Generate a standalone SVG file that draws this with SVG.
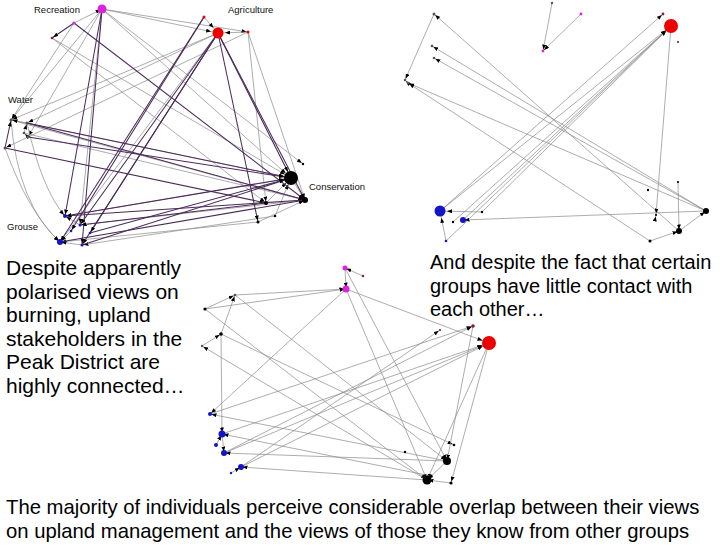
<svg xmlns="http://www.w3.org/2000/svg" width="728" height="546" viewBox="0 0 728 546">
<style>
.tk{stroke:#4a2a5a;stroke-width:1.05;fill:none;marker-end:url(#a)}
.tkb{stroke:#4a2a5a;stroke-width:1.05;fill:none;marker-end:url(#ab)}
.tn{stroke:#8a8a8a;stroke-width:0.7;fill:none;marker-end:url(#a)}
.tnb{stroke:#8a8a8a;stroke-width:0.7;fill:none;marker-end:url(#ab)}
.lbl{font-family:"Liberation Sans",Arial,sans-serif;font-size:9.5px;fill:#111}
.cap{font-family:"Liberation Sans",Arial,sans-serif;font-size:20px;fill:#000}
.capl{font-family:"Liberation Sans",Arial,sans-serif;font-size:21px;fill:#000}
.capb{font-family:"Liberation Sans",Arial,sans-serif;font-size:20.3px;fill:#000}
.mg{fill:#dd22dd}.rd{fill:#ee0000}.bl{fill:#1414cc}.bk{fill:#000}.gy{fill:#555}.dr{fill:#8a1a2a}
</style>
<defs>
<marker id="a" viewBox="0 0 5 4" refX="6.5" refY="2" markerWidth="5" markerHeight="4" markerUnits="userSpaceOnUse" orient="auto"><path d="M0,0 L5,2 L0,4z" fill="#000"/></marker>
<marker id="ab" viewBox="0 0 5 4" refX="12" refY="2" markerWidth="5" markerHeight="4" markerUnits="userSpaceOnUse" orient="auto"><path d="M0,0 L5,2 L0,4z" fill="#000"/></marker>
</defs>
<rect width="728" height="546" fill="#fff"/>

<!-- ============ Network A (top-left) ============ -->
<g id="a-edges">
<line class="tn" x1="102" y1="9" x2="11" y2="120"/>
<line class="tn" x1="102" y1="9" x2="28" y2="137"/>
<line class="tnb" x1="102" y1="9" x2="291" y2="178"/>
<line class="tn" x1="102" y1="9" x2="303" y2="164"/>
<line class="tnb" x1="102" y1="9" x2="218" y2="33"/>
<line class="tn" x1="102" y1="9" x2="248" y2="32"/>
<line class="tn" x1="102" y1="9" x2="80" y2="225"/>
<line class="tn" x1="74" y1="23" x2="102" y2="9"/>
<line class="tn" x1="74" y1="23" x2="11" y2="120"/>
<line class="tnb" x1="52" y1="38" x2="291" y2="178"/>
<line class="tn" x1="52" y1="38" x2="266" y2="203"/>
<line class="tn" x1="218" y1="33" x2="11" y2="120"/>
<line class="tn" x1="218" y1="33" x2="27" y2="123"/>
<line class="tn" x1="248" y1="32" x2="5" y2="148"/>
<line class="tnb" x1="204" y1="17" x2="218" y2="33"/>
<line class="tnb" x1="248" y1="32" x2="218" y2="33"/>
<line class="tn" x1="248" y1="32" x2="266" y2="203"/>
<line class="tn" x1="248" y1="32" x2="305" y2="200"/>
<line class="tn" x1="218" y1="33" x2="60" y2="242"/>
<line class="tn" x1="11" y1="120" x2="305" y2="200"/>
<line class="tn" x1="24" y1="133" x2="305" y2="200"/>
<line class="tnb" x1="11" y1="120" x2="291" y2="178"/>
<line class="tn" x1="27" y1="123" x2="11" y2="120"/>
<line class="tn" x1="24" y1="133" x2="27" y2="123"/>
<line class="tn" x1="28" y1="137" x2="24" y2="133"/>
<path class="tn" d="M11,120 Q18,205 60,242"/>
<path class="tn" d="M5,148 Q28,212 60,242"/>
<path class="tn" d="M27,123 Q42,190 65,216"/>
<line class="tnb" x1="266" y1="203" x2="291" y2="178"/>
<line class="tnb" x1="275" y1="216" x2="291" y2="178"/>
<line class="tn" x1="258" y1="222" x2="305" y2="200"/>
<line class="tn" x1="291" y1="178" x2="305" y2="200"/>
<line class="tn" x1="291" y1="178" x2="65" y2="216"/>
<line class="tn" x1="305" y1="200" x2="80" y2="225"/>
<line class="tn" x1="258" y1="222" x2="60" y2="242"/>
<line class="tn" x1="275" y1="216" x2="82" y2="245"/>
<line class="tn" x1="80" y1="225" x2="65" y2="216"/>
<line class="tn" x1="71" y1="231" x2="60" y2="242"/>
<line class="tn" x1="82" y1="245" x2="60" y2="242"/>
<line class="tk" x1="102" y1="9" x2="65" y2="216"/>
<line class="tk" x1="102" y1="9" x2="82" y2="245"/>
<line class="tk" x1="204" y1="17" x2="60" y2="242"/>
<line class="tk" x1="204" y1="17" x2="71" y2="231"/>
<line class="tk" x1="218" y1="33" x2="80" y2="225"/>
<line class="tk" x1="218" y1="33" x2="82" y2="245"/>
<line class="tk" x1="218" y1="33" x2="90" y2="233"/>
<line class="tk" x1="218" y1="33" x2="258" y2="222"/>
<line class="tkb" x1="218" y1="33" x2="291" y2="178"/>
<line class="tk" x1="218" y1="33" x2="305" y2="200"/>
<line class="tk" x1="74" y1="23" x2="305" y2="200"/>
<line class="tk" x1="74" y1="23" x2="52" y2="38"/>
<line class="tkb" x1="27" y1="123" x2="291" y2="178"/>
<line class="tkb" x1="28" y1="137" x2="291" y2="178"/>
<line class="tk" x1="27" y1="123" x2="305" y2="200"/>
<line class="tk" x1="5" y1="148" x2="266" y2="203"/>
<line class="tk" x1="5" y1="148" x2="11" y2="120"/>
<line class="tkb" x1="65" y1="216" x2="291" y2="178"/>
<line class="tk" x1="60" y1="242" x2="305" y2="200"/>
<line class="tkb" x1="82" y1="245" x2="291" y2="178"/>
<line class="tkb" x1="90" y1="233" x2="291" y2="178"/>
<line class="tk" x1="305" y1="200" x2="65" y2="216"/>
<line class="tk" x1="266" y1="203" x2="80" y2="225"/>
</g>
<g id="a-R"><circle cx="102" cy="9" r="4.5" class="mg"/><text class="lbl" x="34" y="13">Recreation</text></g>
<g id="a-r1"><circle cx="74" cy="23" r="1.6" class="mg"/></g>
<g id="a-r2"><circle cx="52" cy="38" r="1.3" class="dr"/></g>
<g id="a-G"><circle cx="218" cy="33" r="5.5" class="rd"/><text class="lbl" x="228" y="13">Agriculture</text></g>
<g id="a-g1"><circle cx="204" cy="17" r="1.5" class="rd"/></g>
<g id="a-g2"><circle cx="248" cy="32" r="1.5" class="rd"/></g>
<g id="a-W"><text class="lbl" x="8" y="103">Water</text></g>
<g id="a-w1"><circle cx="11" cy="120" r="1.5" class="gy"/></g>
<g id="a-w2"><circle cx="27" cy="123" r="1.5" class="gy"/></g>
<g id="a-w3"><circle cx="24" cy="133" r="1.3" class="gy"/></g>
<g id="a-w4"><circle cx="28" cy="137" r="1.5" class="gy"/></g>
<g id="a-w5"><circle cx="5" cy="148" r="1.5" class="gy"/></g>
<g id="a-C"><circle cx="291" cy="178" r="7" class="bk"/><text class="lbl" x="309" y="190">Conservation</text></g>
<g id="a-c1"><circle cx="305" cy="200" r="3" class="bk"/></g>
<g id="a-c2"><circle cx="266" cy="203" r="2" class="bk"/></g>
<g id="a-c3"><circle cx="258" cy="222" r="1.5" class="bk"/></g>
<g id="a-c4"><circle cx="303" cy="164" r="1.2" class="bk"/></g>
<g id="a-c5"><circle cx="275" cy="216" r="1.3" class="bk"/></g>
<g id="a-Gr"><text class="lbl" x="7" y="230">Grouse</text></g>
<g id="a-B"><circle cx="60" cy="242" r="3" class="bl"/></g>
<g id="a-b1"><circle cx="65" cy="216" r="2" class="bl"/></g>
<g id="a-b2"><circle cx="80" cy="225" r="1.5" class="bl"/></g>
<g id="a-b3"><circle cx="71" cy="231" r="1.3" class="bl"/></g>
<g id="a-b4"><circle cx="82" cy="245" r="1.5" class="bl"/></g>
<g id="a-b5"><circle cx="90" cy="233" r="1.3" class="bl"/></g>

<!-- ============ Network B (top-right) ============ -->
<g id="b-edges">
<line class="tn" x1="434" y1="14" x2="405" y2="80"/>
<line class="tn" x1="679" y1="231" x2="434" y2="14"/>
<line class="tn" x1="706" y1="211" x2="432" y2="46"/>
<line class="tn" x1="706" y1="211" x2="434" y2="58"/>
<line class="tn" x1="706" y1="211" x2="408" y2="83"/>
<line class="tn" x1="650" y1="241" x2="408" y2="83"/>
<line class="tn" x1="408" y1="83" x2="405" y2="80"/>
<line class="tn" x1="552" y1="3" x2="543" y2="51"/>
<line class="tn" x1="581" y1="14" x2="543" y2="51"/>
<line class="tnb" x1="440" y1="211" x2="671" y2="26"/>
<line class="tnb" x1="453" y1="222" x2="671" y2="26"/>
<line class="tnb" x1="463" y1="220" x2="671" y2="26"/>
<line class="tnb" x1="482" y1="212" x2="671" y2="26"/>
<line class="tnb" x1="446" y1="241" x2="671" y2="26"/>
<line class="tn" x1="440" y1="211" x2="663" y2="14"/>
<line class="tn" x1="671" y1="26" x2="656" y2="215"/>
<line class="tn" x1="706" y1="211" x2="463" y2="220"/>
<line class="tnb" x1="482" y1="212" x2="440" y2="211"/>
<line class="tnb" x1="446" y1="241" x2="440" y2="211"/>
<line class="tn" x1="678" y1="182" x2="679" y2="231"/>
<line class="tn" x1="650" y1="241" x2="679" y2="231"/>
<line class="tn" x1="679" y1="231" x2="706" y2="211"/>
<line class="tn" x1="655" y1="220" x2="656" y2="215"/>
</g>
<g id="b-n1"><circle cx="434" cy="14" r="1.5" class="gy"/></g>
<g id="b-n2"><circle cx="432" cy="46" r="1.3" class="gy"/></g>
<g id="b-n3"><circle cx="434" cy="58" r="1.3" class="gy"/></g>
<g id="b-n4"><circle cx="405" cy="80" r="1.3" class="gy"/></g>
<g id="b-n5"><circle cx="408" cy="83" r="1.3" class="gy"/></g>
<g id="b-m0"><circle cx="552" cy="3" r="1.2" class="gy"/></g>
<g id="b-m1"><circle cx="543" cy="51" r="1.4" class="mg"/></g>
<g id="b-m2"><circle cx="581" cy="14" r="1.4" class="mg"/></g>
<g id="b-r0"><circle cx="663" cy="14" r="1.4" class="dr"/></g>
<g id="b-RR"><circle cx="671" cy="26" r="7" class="rd"/></g>
<g id="b-r3"><circle cx="678" cy="42" r="1.1" class="dr"/></g>
<g id="b-BB"><circle cx="440" cy="211" r="5.5" class="bl"/></g>
<g id="b-bb1"><circle cx="463" cy="220" r="3" class="bl"/></g>
<g id="b-bb2"><circle cx="446" cy="241" r="1.3" class="bl"/></g>
<g id="b-bb3"><circle cx="482" cy="212" r="1.2" class="bk"/></g>
<g id="b-bb4"><circle cx="453" cy="222" r="1.2" class="bk"/></g>
<g id="b-k1"><circle cx="706" cy="211" r="3" class="bk"/></g>
<g id="b-k2"><circle cx="679" cy="231" r="3" class="bk"/></g>
<g id="b-k3"><circle cx="650" cy="241" r="1.5" class="bk"/></g>
<g id="b-k4"><circle cx="648" cy="190" r="1.2" class="bk"/></g>
<g id="b-k5"><circle cx="678" cy="182" r="1.1" class="bk"/></g>
<g id="b-k6"><circle cx="656" cy="215" r="1.1" class="bk"/></g>

<!-- ============ Network C (bottom) ============ -->
<g id="c-edges">
<line class="tn" x1="345" y1="268" x2="346" y2="289"/>
<line class="tn" x1="363" y1="276" x2="345" y2="268"/>
<line class="tn" x1="235" y1="295" x2="346" y2="289"/>
<line class="tn" x1="205" y1="309" x2="346" y2="289"/>
<line class="tn" x1="205" y1="309" x2="235" y2="295"/>
<line class="tn" x1="221" y1="334" x2="235" y2="295"/>
<line class="tn" x1="202" y1="346" x2="221" y2="334"/>
<line class="tn" x1="221" y1="334" x2="222" y2="434"/>
<line class="tnb" x1="346" y1="289" x2="489" y2="343"/>
<line class="tn" x1="345" y1="268" x2="447" y2="461"/>
<line class="tn" x1="346" y1="289" x2="427" y2="480"/>
<line class="tn" x1="205" y1="309" x2="427" y2="480"/>
<line class="tn" x1="235" y1="295" x2="447" y2="461"/>
<line class="tn" x1="221" y1="334" x2="454" y2="445"/>
<line class="tn" x1="346" y1="289" x2="210" y2="414"/>
<line class="tn" x1="427" y1="480" x2="202" y2="346"/>
<line class="tnb" x1="222" y1="434" x2="489" y2="343"/>
<line class="tnb" x1="224" y1="453" x2="489" y2="343"/>
<line class="tnb" x1="241" y1="467" x2="489" y2="343"/>
<line class="tn" x1="241" y1="467" x2="440" y2="330"/>
<line class="tn" x1="210" y1="414" x2="473" y2="326"/>
<line class="tn" x1="224" y1="453" x2="473" y2="326"/>
<line class="tn" x1="473" y1="326" x2="447" y2="461"/>
<line class="tn" x1="489" y1="343" x2="451" y2="483"/>
<line class="tn" x1="489" y1="343" x2="427" y2="480"/>
<line class="tn" x1="427" y1="480" x2="241" y2="467"/>
<line class="tn" x1="447" y1="461" x2="224" y2="453"/>
<line class="tn" x1="447" y1="461" x2="210" y2="414"/>
<line class="tn" x1="431" y1="476" x2="222" y2="434"/>
<line class="tn" x1="447" y1="461" x2="427" y2="480"/>
<line class="tn" x1="451" y1="483" x2="427" y2="480"/>
<line class="tn" x1="216" y1="445" x2="222" y2="434"/>
<line class="tn" x1="222" y1="434" x2="224" y2="453"/>
<line class="tn" x1="231" y1="473" x2="241" y2="467"/>
</g>
<g id="c-M1"><circle cx="345" cy="268" r="2.5" class="mg"/></g>
<g id="c-m3"><circle cx="363" cy="276" r="1.2" class="dr"/></g>
<g id="c-M2"><circle cx="346" cy="289" r="3.5" class="mg"/></g>
<g id="c-p1"><circle cx="235" cy="295" r="1.3" class="gy"/></g>
<g id="c-p2"><circle cx="205" cy="309" r="1.6" class="bk"/></g>
<g id="c-p3"><circle cx="221" cy="334" r="1.8" class="bk"/></g>
<g id="c-p4"><circle cx="202" cy="346" r="1.2" class="gy"/></g>
<g id="c-q1"><circle cx="440" cy="330" r="1.1" class="dr"/></g>
<g id="c-q2"><circle cx="473" cy="326" r="1.8" class="dr"/></g>
<g id="c-RED"><circle cx="489" cy="343" r="7" class="rd"/></g>
<g id="c-BL1"><circle cx="210" cy="414" r="2" class="bl"/></g>
<g id="c-BL2"><circle cx="222" cy="434" r="3.5" class="bl"/></g>
<g id="c-BL3"><circle cx="216" cy="445" r="2" class="bl"/></g>
<g id="c-BL4"><circle cx="224" cy="453" r="3" class="bl"/></g>
<g id="c-BL5"><circle cx="241" cy="467" r="3" class="bl"/></g>
<g id="c-BL6"><circle cx="231" cy="473" r="1.2" class="bl"/></g>
<g id="c-K1"><circle cx="447" cy="461" r="4" class="bk"/></g>
<g id="c-K2"><circle cx="427" cy="480" r="4.5" class="bk"/></g>
<g id="c-K3"><circle cx="454" cy="445" r="1.3" class="bk"/></g>
<g id="c-K4"><circle cx="405" cy="452" r="1.2" class="bk"/></g>
<g id="c-K5"><circle cx="451" cy="483" r="1.6" class="bk"/></g>
<g id="c-K6"><circle cx="431" cy="476" r="1.6" class="bk"/></g>

<!-- ============ Captions ============ -->
<g id="cap-left">
<text class="capl" x="6" y="275">Despite apparently</text>
<text class="capl" x="6" y="299">polarised views on</text>
<text class="capl" x="6" y="322">burning, upland</text>
<text class="capl" x="6" y="346">stakeholders in the</text>
<text class="capl" x="6" y="369">Peak District are</text>
<text class="capl" x="6" y="393">highly connected…</text>
</g>
<g id="cap-right">
<text class="cap" x="430" y="269">And despite the fact that certain</text>
<text class="cap" x="430" y="293">groups have little contact with</text>
<text class="cap" x="430" y="316">each other…</text>
</g>
<g id="cap-bottom">
<text class="capb" x="6" y="514">The majority of individuals perceive considerable overlap between their views</text>
<text class="capb" x="6" y="538">on upland management and the views of those they know from other groups</text>
</g>
</svg>
